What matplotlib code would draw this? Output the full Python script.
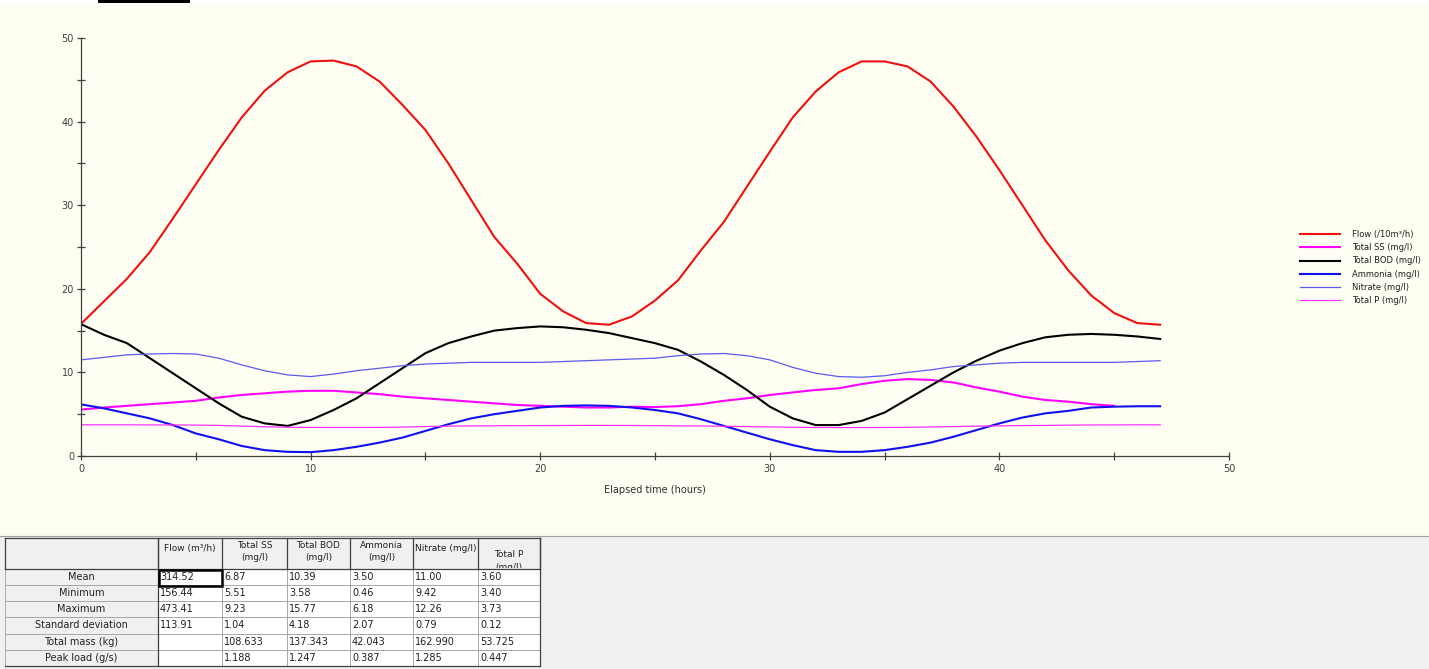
import numpy as np
import matplotlib
matplotlib.use("Agg")
import matplotlib.pyplot as plt
from matplotlib.patches import Rectangle

# ---------------------------------------------------------------------------
# Datos (una muestra por hora)
# ---------------------------------------------------------------------------
horas = list(range(48))
horas_ss = list(range(46))

flujo = [15.8, 18.5, 21.2, 24.4, 28.4, 32.5, 36.6, 40.5, 43.7, 45.9,
         47.2, 47.3, 46.6, 44.8, 42.0, 39.0, 35.0, 30.6, 26.2, 23.0,
         19.4, 17.3, 15.9, 15.7, 16.7, 18.6, 21.0, 24.6, 28.0, 32.2,
         36.4, 40.5, 43.6, 45.9, 47.2, 47.2, 46.6, 44.8, 41.8, 38.2,
         34.2, 30.0, 25.8, 22.2, 19.2, 17.1, 15.9, 15.7]

total_ss = [5.55, 5.8, 6.0, 6.2, 6.4, 6.6, 7.0, 7.3, 7.5, 7.7,
            7.8, 7.8, 7.6, 7.4, 7.1, 6.9, 6.7, 6.5, 6.3, 6.1,
            6.0, 5.9, 5.8, 5.8, 5.9, 5.85, 5.96, 6.2, 6.6, 6.9,
            7.3, 7.6, 7.9, 8.1, 8.6, 9.0, 9.2, 9.1, 8.8, 8.2,
            7.7, 7.1, 6.7, 6.5, 6.2, 6.0]

total_dbo = [15.77, 14.5, 13.5, 11.7, 9.9, 8.1, 6.3, 4.7, 3.9, 3.6,
             4.3, 5.5, 6.9, 8.7, 10.5, 12.3, 13.5, 14.3, 15.0, 15.3,
             15.5, 15.4, 15.1, 14.7, 14.1, 13.5, 12.7, 11.3, 9.7, 7.9,
             5.9, 4.5, 3.7, 3.7, 4.2, 5.2, 6.8, 8.4, 10.0, 11.4,
             12.6, 13.5, 14.2, 14.5, 14.6, 14.5, 14.3, 14.0]

amonio = [6.18, 5.7, 5.1, 4.5, 3.7, 2.7, 2.0, 1.2, 0.7, 0.5,
          0.46, 0.7, 1.1, 1.6, 2.2, 3.0, 3.8, 4.5, 5.0, 5.4,
          5.8, 6.0, 6.05, 6.0, 5.8, 5.5, 5.1, 4.4, 3.6, 2.8,
          2.0, 1.3, 0.7, 0.5, 0.5, 0.7, 1.1, 1.6, 2.3, 3.1,
          3.9, 4.6, 5.1, 5.4, 5.8, 5.9, 5.95, 5.95]

nitrato = [11.5, 11.8, 12.1, 12.2, 12.26, 12.2, 11.7, 10.9, 10.2, 9.7,
           9.5, 9.8, 10.2, 10.5, 10.8, 11.0, 11.1, 11.2, 11.2, 11.2,
           11.2, 11.3, 11.4, 11.5, 11.6, 11.7, 12.0, 12.2, 12.26, 12.0,
           11.5, 10.6, 9.9, 9.5, 9.42, 9.6, 10.0, 10.3, 10.7, 10.9,
           11.1, 11.2, 11.2, 11.2, 11.2, 11.2, 11.3, 11.4]

total_p = [3.73, 3.73, 3.73, 3.72, 3.71, 3.70, 3.66, 3.58, 3.50, 3.44,
           3.42, 3.41, 3.41, 3.42, 3.46, 3.52, 3.57, 3.60, 3.62, 3.63,
           3.64, 3.65, 3.66, 3.66, 3.65, 3.63, 3.61, 3.59, 3.56, 3.52,
           3.48, 3.44, 3.41, 3.40, 3.40, 3.41, 3.43, 3.47, 3.52, 3.57,
           3.61, 3.64, 3.66, 3.69, 3.71, 3.72, 3.73, 3.73]

etiquetas_series = ["Flow (/10m³/h)", "Total SS (mg/l)", "Total BOD (mg/l)",
                    "Ammonia (mg/l)", "Nitrate (mg/l)", "Total P (mg/l)"]

# Tabla de estadísticas
encabezados_tabla = ["Flow (m³/h)", "Total SS\n(mg/l)", "Total BOD\n(mg/l)",
                     "Ammonia\n(mg/l)", "Nitrate (mg/l)", "Total P\n(mg/l)"]
filas_tabla = ["Mean", "Minimum", "Maximum", "Standard deviation",
               "Total mass (kg)", "Peak load (g/s)"]
valores_tabla = [
    ["314.52", "6.87", "10.39", "3.50", "11.00", "3.60"],
    ["156.44", "5.51", "3.58", "0.46", "9.42", "3.40"],
    ["473.41", "9.23", "15.77", "6.18", "12.26", "3.73"],
    ["113.91", "1.04", "4.18", "2.07", "0.79", "0.12"],
    ["", "108.633", "137.343", "42.043", "162.990", "53.725"],
    ["", "1.188", "1.247", "0.387", "1.285", "0.447"],
]

# ---------------------------------------------------------------------------
# Figura
# ---------------------------------------------------------------------------
W, H = 1429, 669
fig = plt.figure(figsize=(W / 100, H / 100), dpi=100)
fig.patch.set_facecolor("#FEFEF2")

# Capa de fondo en coordenadas de píxel (bandas, tabla)
fondo = fig.add_axes([0, 0, 1, 1], zorder=0)
fondo.set_xlim(0, W)
fondo.set_ylim(H, 0)
fondo.axis("off")
fondo.add_patch(Rectangle((0, 0), W, 5, facecolor="white", edgecolor="none"))
fondo.add_patch(Rectangle((98, 0), 92, 3, facecolor="black", edgecolor="none"))
fondo.add_patch(Rectangle((0, 536), W, H - 536, facecolor="#F0F0F0",
                          edgecolor="none"))
fondo.plot([0, W], [536, 536], color="#A0A0A0", lw=0.8)

# Ejes principales
ax = fig.add_axes([81 / W, 1 - 456 / H, (1229 - 81) / W, (456 - 38) / H],
                  zorder=2)
ax.set_facecolor("none")

ax.plot(horas, flujo, color="#F01010", lw=1.5, label=etiquetas_series[0])
ax.plot(horas_ss, total_ss, color="#FF00FF", lw=1.5, label=etiquetas_series[1])
ax.plot(horas, total_dbo, color="black", lw=1.5, label=etiquetas_series[2])
ax.plot(horas, amonio, color="#1010F0", lw=1.5, label=etiquetas_series[3])
ax.plot(horas, nitrato, color="#5A5AF0", lw=0.9, label=etiquetas_series[4])
ax.plot(horas, total_p, color="#FF30FF", lw=0.9, label=etiquetas_series[5])

ax.set_xlim(0, 50)
ax.set_ylim(0, 50)
ax.set_xticks(range(0, 51, 10))
ax.set_xticks(range(0, 51, 5), minor=True)
ax.set_yticks(range(0, 51, 10))
ax.set_yticks(range(0, 51, 5), minor=True)
ax.spines[["top", "right"]].set_visible(False)
for lado in ("left", "bottom"):
    ax.spines[lado].set_color("#404040")
    ax.spines[lado].set_linewidth(0.9)
ax.tick_params(which="both", direction="inout", length=6, width=0.9,
               color="#404040", labelsize=7, labelcolor="#404040")
ax.tick_params(axis="x", pad=3)
ax.tick_params(axis="y", pad=2)
ax.set_xlabel("Elapsed time (hours)", fontsize=7, color="#303030", labelpad=8)

ax.legend(loc="upper left", bbox_to_anchor=(1296 / W, 1 - 226 / H),
          bbox_transform=fig.transFigure, frameon=False, fontsize=6,
          handlelength=4.8, handletextpad=1.45, labelspacing=0.5,
          borderpad=0, labelcolor="#202020")

# ---------------------------------------------------------------------------
# Tabla dibujada a mano
# ---------------------------------------------------------------------------
bordes_col = [5, 158, 222, 287, 350, 413, 478, 540]
bordes_fil = [538, 569, 585, 601, 617, 634, 650, 666]
color_texto = "#202020"

for i in range(len(bordes_fil) - 1):
    for j in range(len(bordes_col) - 1):
        x0, x1 = bordes_col[j], bordes_col[j + 1]
        y0, y1 = bordes_fil[i], bordes_fil[i + 1]
        gris = i == 0 or j == 0
        fondo.add_patch(Rectangle((x0, y0), x1 - x0, y1 - y0,
                                  facecolor="#F0F0F0" if gris else "white",
                                  edgecolor="#A0A0A0", lw=0.6))

for j, texto in enumerate(encabezados_tabla):
    xc = (bordes_col[j + 1] + bordes_col[j + 2]) / 2
    x0, x1 = bordes_col[j + 1], bordes_col[j + 2]
    # la última cabecera queda desplazada hacia abajo y recortada
    y_top = bordes_fil[0] + (12 if j == len(encabezados_tabla) - 1 else 3)
    if "\n" not in texto:
        y_top += 3
    t = fondo.text(xc, y_top, texto, ha="center", va="top",
                   fontsize=6.5, color=color_texto, linespacing=1.5)
    recorte = Rectangle((x0, bordes_fil[0]), x1 - x0,
                        bordes_fil[1] - bordes_fil[0] - 1,
                        transform=fondo.transData)
    t.set_clip_path(recorte)
    t.set_clip_on(True)

# Celdas de cabecera de nuevo encima del texto recortado
fondo.add_patch(Rectangle((bordes_col[1], bordes_fil[1] - 0.5),
                          bordes_col[-1] - bordes_col[1], 1.5,
                          facecolor="white", edgecolor="none", zorder=3))

# Bordes más marcados de encabezados
for x in bordes_col:
    fondo.plot([x, x], [bordes_fil[0], bordes_fil[1]], color="#404040",
               lw=0.9, zorder=4)
for y in (bordes_fil[0], bordes_fil[1], bordes_fil[-1]):
    fondo.plot([bordes_col[0], bordes_col[-1]], [y, y], color="#404040",
               lw=0.9, zorder=4)
fondo.plot([bordes_col[1], bordes_col[1]], [bordes_fil[0], bordes_fil[-1]],
           color="#404040", lw=0.9, zorder=4)
fondo.plot([bordes_col[-1]] * 2, [bordes_fil[0], bordes_fil[-1]],
           color="#404040", lw=0.9, zorder=4)

for i, fila in enumerate(filas_tabla):
    yc = (bordes_fil[i + 1] + bordes_fil[i + 2]) / 2
    fondo.text((bordes_col[0] + bordes_col[1]) / 2, yc, fila, ha="center",
               va="center", fontsize=7, color=color_texto)
    for j, valor in enumerate(valores_tabla[i]):
        fondo.text(bordes_col[j + 1] + 2, yc, valor, ha="left", va="center",
                   fontsize=7, color=color_texto)

# Celda seleccionada (Mean / Flow)
fondo.add_patch(Rectangle((bordes_col[1] + 1, bordes_fil[1] + 0.5),
                          bordes_col[2] - bordes_col[1] - 1,
                          bordes_fil[2] - bordes_fil[1],
                          facecolor="none", edgecolor="black", lw=1.8,
                          zorder=5))

fig.savefig("out.png", dpi=100, facecolor=fig.get_facecolor())
